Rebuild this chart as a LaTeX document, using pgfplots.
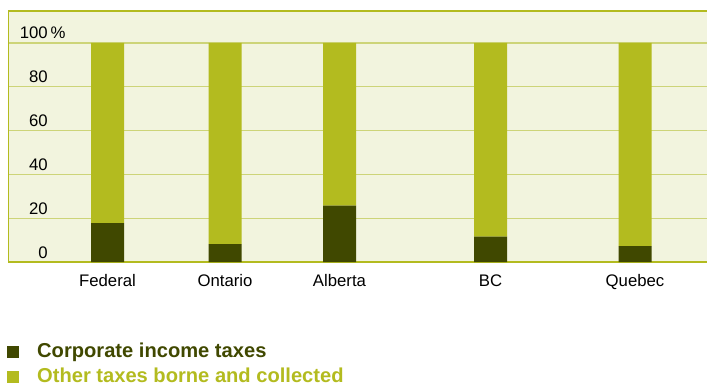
\documentclass[border=0pt]{standalone}
\usepackage{pgfplots}
\pgfplotsset{compat=1.18}
\usepackage{fontspec}
\setmainfont{Liberation Sans}
\definecolor{darkc}{RGB}{64,72,0}
\definecolor{lightc}{RGB}{179,187,31}
\definecolor{bgc}{RGB}{242,244,222}
\definecolor{gridc}{RGB}{205,212,120}
\begin{document}
\begin{tikzpicture}[x=1bp,y=1bp]
\path[use as bounding box] (0,0) rectangle (707,384);
\begin{axis}[
  at={(8bp,122bp)}, anchor=south west,
  scale only axis, width=699bp, height=251bp,
  xmin=8, xmax=707, ymin=0, ymax=114.6,
  ybar stacked, bar width=33,
  axis line style={draw=none},
  axis background/.style={fill=bgc},
  ytick={0,20,40,60,80,100},
  yticklabels={0,20,40,60,80,100\rlap{\,\%}},
  ymajorgrids, grid style={gridc, line width=1.3bp},
  major tick length=0,
  xtick={107.5,225,339.5,490.5,635},
  xticklabels={Federal,Ontario,Alberta,BC,Quebec},
  ticklabel style={font=\fontsize{16.8}{20}\selectfont},
  yticklabel style={anchor=base east, inner sep=0pt, xshift=40bp, yshift=4bp},
  xticklabel style={anchor=base, inner sep=0pt, yshift=-24bp},
  /pgf/number format/assume math mode=true,
  legend style={draw=none, fill=none, at={(rel axis cs:0,0)}, anchor=north west,
    xshift=-1bp, yshift=-80bp, inner sep=0pt, column sep=18bp, row sep=5bp,
    nodes={inner sep=0pt, text height=15bp, text depth=5bp},
    font=\bfseries\fontsize{20.2}{24}\selectfont},
  legend cell align=left,
]
\addplot[fill=darkc, draw=none, legend image code/.code={\fill[darkc] (0bp,-6bp) rectangle (12bp,6bp);}]
  coordinates {(107.5,17.8) (225,8.2) (339.5,25.7) (490.5,11.6) (635,7.3)};
\addlegendentry{\textcolor{darkc}{Corporate income taxes}}
\addplot[fill=lightc, draw=none, legend image code/.code={\fill[lightc] (0bp,-6bp) rectangle (12bp,6bp);}]
  coordinates {(107.5,82.2) (225,91.8) (339.5,74.3) (490.5,88.4) (635,92.7)};
\addlegendentry{\textcolor{lightc}{Other taxes borne and collected}}
\draw[lightc, line width=1.6bp] (rel axis cs:0,0) -- (rel axis cs:1,0);
\draw[lightc, line width=2bp] (rel axis cs:0,1) -- (rel axis cs:1,1);
\draw[lightc, line width=1.2bp] (rel axis cs:0,0) -- (rel axis cs:0,1);
\end{axis}
\end{tikzpicture}
\end{document}
